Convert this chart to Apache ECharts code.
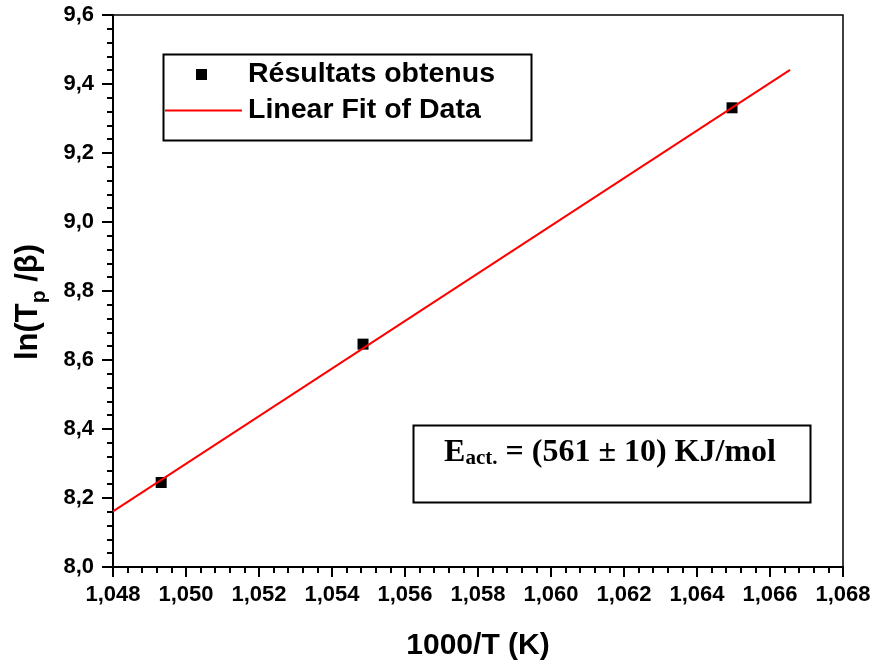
<!DOCTYPE html>
<html>
<head>
<meta charset="utf-8">
<script src="https://cdn.jsdelivr.net/npm/echarts@6/dist/echarts.min.js"></script>
<style>html,body{margin:0;padding:0;background:#fff}#c{width:877px;height:666px}</style>
</head>
<body>
<div id="c"></div>
<script>
// Data
var pointsX = [1.04932, 1.05485, 1.06496];
var pointsY = [8.245, 8.646, 9.331];
var fitX = [1.048, 1.06655];
var fitY = [8.161, 9.441];
var xTicks = ['1,048','1,050','1,052','1,054','1,056','1,058','1,060','1,062','1,064','1,066','1,068'];
var yTicks = ['8,0','8,2','8,4','8,6','8,8','9,0','9,2','9,4','9,6'];
var seriesNames = ['Résultats obtenus', 'Linear Fit of Data'];

var chart = echarts.init(document.getElementById('c'), null, {renderer: 'canvas'});
var F = 'Arial, "Liberation Sans", sans-serif';
var pts = pointsX.map(function (x, i) { return [x, pointsY[i]]; });
var fit = fitX.map(function (x, i) { return [x, fitY[i]]; });

chart.setOption({
  backgroundColor: '#fff',
  animation: false,
  grid: {left: 113, right: 34, top: 15, bottom: 97, show: true, borderColor: '#000', borderWidth: 1.5, backgroundColor: 'transparent'},
  xAxis: {
    type: 'value', min: 1.048, max: 1.068, interval: 0.002,
    axisLine: {show: true, lineStyle: {color: '#000', width: 2}},
    axisTick: {show: true, inside: false, length: 10, lineStyle: {color: '#000', width: 2}},
    minorTick: {show: true, splitNumber: 5, length: 6, lineStyle: {color: '#000', width: 2}},
    splitLine: {show: false},
    axisLabel: {margin: 17, color: '#000', fontFamily: F, fontWeight: 'bold', fontSize: 22,
      formatter: function (v) { return xTicks[Math.round((v - 1.048) / 0.002)]; }},
    name: '1000/T (K)', nameLocation: 'middle', nameGap: 64,
    nameTextStyle: {color: '#000', fontFamily: F, fontWeight: 'bold', fontSize: 30, verticalAlign: 'top'}
  },
  yAxis: {
    type: 'value', min: 8.0, max: 9.6, interval: 0.2,
    axisLine: {show: true, lineStyle: {color: '#000', width: 2}},
    axisTick: {show: true, inside: false, length: 11, lineStyle: {color: '#000', width: 2}},
    minorTick: {show: true, splitNumber: 5, length: 6, lineStyle: {color: '#000', width: 2}},
    splitLine: {show: false},
    axisLabel: {margin: 19, color: '#000', fontFamily: F, fontWeight: 'bold', fontSize: 22,
      formatter: function (v) { return yTicks[Math.round((v - 8.0) / 0.2)]; }},
    name: '{a|ln(T}{s|p}{e| /β)}', nameLocation: 'middle', nameGap: 63, nameRotate: 90,
    nameTextStyle: {color: '#000', fontFamily: F, fontWeight: 'bold', fontSize: 31,
      rich: {
        a: {fontFamily: F, fontWeight: 'bold', fontSize: 31, color: '#000'},
        e: {fontFamily: F, fontWeight: 'bold', fontSize: 31, color: '#000', padding: [0, 22, 0, 0]},
        s: {fontFamily: F, fontWeight: 'bold', fontSize: 21, color: '#000', padding: [22, 0, 0, 0]}
      }}
  },
  legend: [
    {
      data: [seriesNames[0]], left: 196, top: 60, orient: 'vertical', padding: 0,
      itemWidth: 11, itemHeight: 11,
      textStyle: {color: '#000', fontFamily: F, fontWeight: 'bold', fontSize: 28.5, padding: [0, 0, 0, 36]}
    },
    {
      data: [{name: seriesNames[1], icon: 'rect'}], left: 165, top: 96, orient: 'vertical', padding: 0,
      itemWidth: 77, itemHeight: 2,
      itemStyle: {color: '#ff0000'},
      textStyle: {color: '#000', fontFamily: F, fontWeight: 'bold', fontSize: 28.5, padding: [0, 0, 0, 1]}
    }
  ],
  graphic: [
    {type: 'rect', left: 161, top: 52, shape: {width: 368, height: 86},
      style: {fill: 'none', stroke: '#000', lineWidth: 2}, z: 10},
    {type: 'rect', left: 411, top: 423, shape: {width: 397, height: 77},
      style: {fill: 'none', stroke: '#000', lineWidth: 2}, z: 10},
    {type: 'text', x: 610, y: 453, z: 11,
      style: {
        text: '{m|E}{s|act.}{m| = (561 ± 10) KJ/mol}',
        align: 'center', verticalAlign: 'middle',
        rich: {
          m: {fontFamily: '"Liberation Serif", "Times New Roman", serif', fontWeight: 'bold', fontSize: 32, fill: '#000'},
          s: {fontFamily: '"Liberation Serif", "Times New Roman", serif', fontWeight: 'bold', fontSize: 21, fill: '#000', padding: [11, 0, 0, 0]}
        }
      }}
  ],
  series: [
    {name: seriesNames[0], type: 'scatter', data: pts, symbol: 'rect', symbolSize: 11,
      itemStyle: {color: '#000', opacity: 1}, z: 2},
    {name: seriesNames[1], type: 'line', data: fit, symbol: 'none', showSymbol: false,
      lineStyle: {color: '#ff0000', width: 2}, itemStyle: {color: '#ff0000'}, z: 3}
  ]
});
</script>
</body>
</html>
